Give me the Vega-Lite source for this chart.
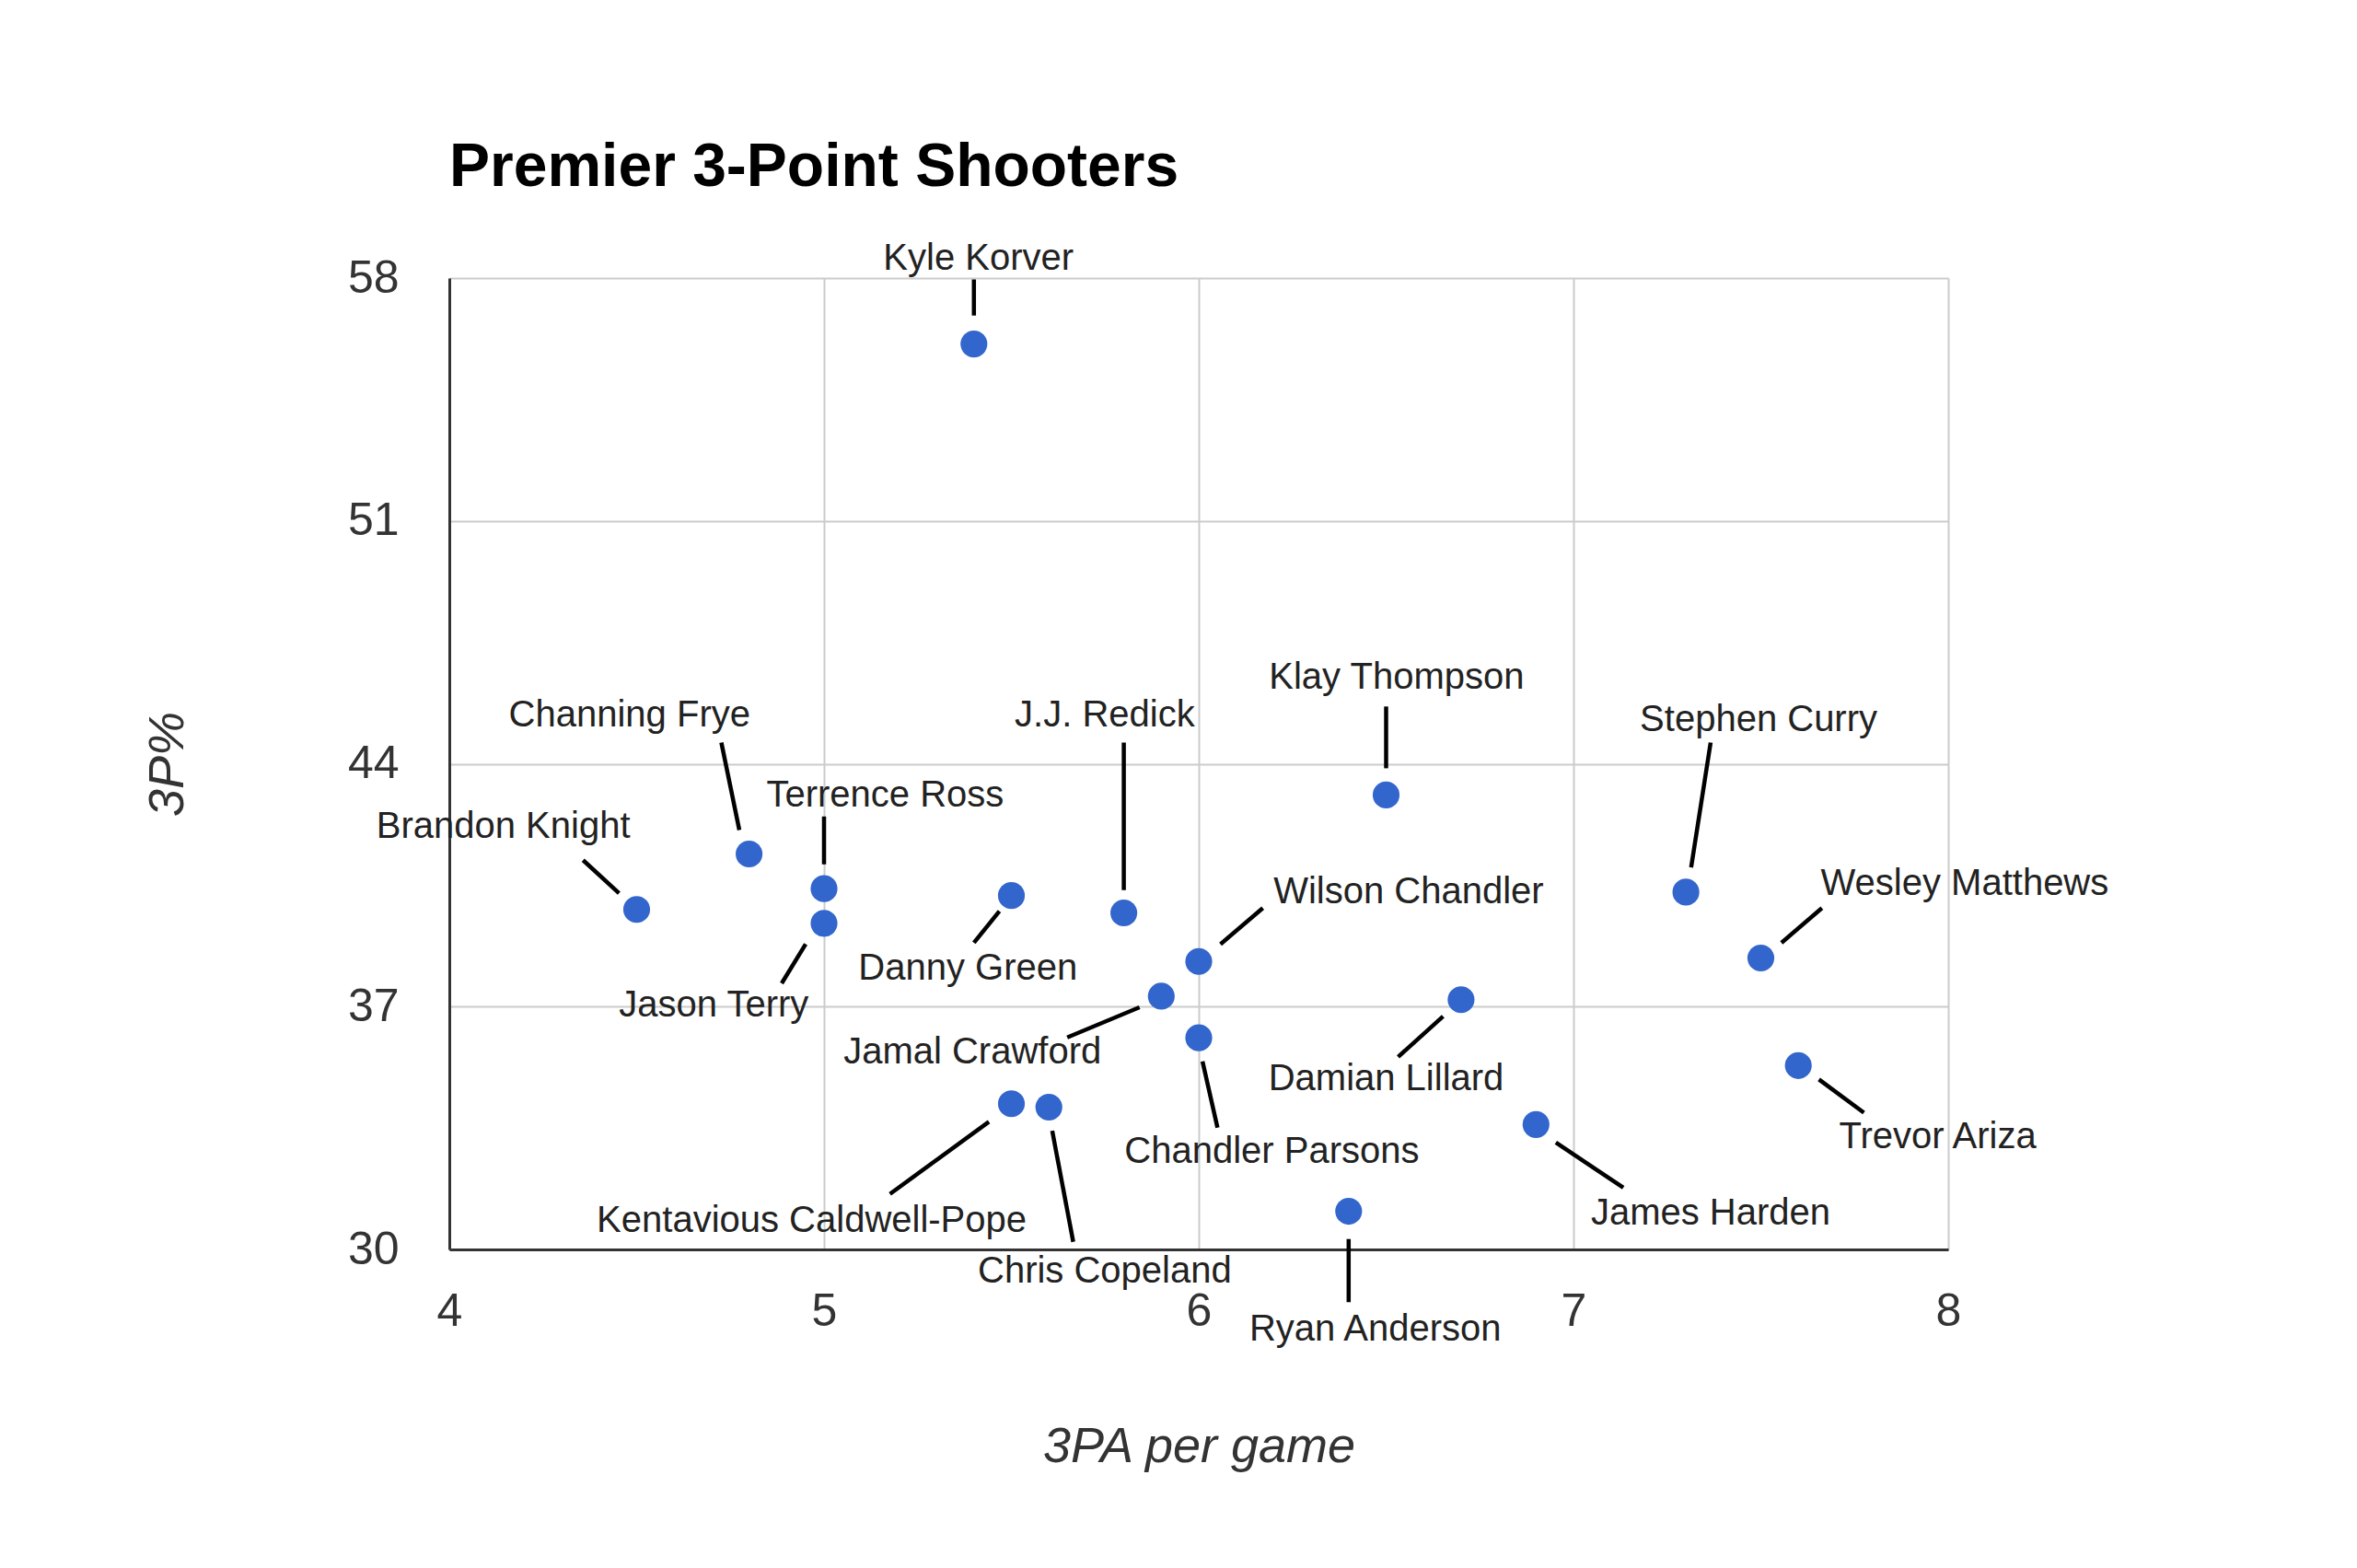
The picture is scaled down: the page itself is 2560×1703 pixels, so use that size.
{
  "$schema": "https://vega.github.io/schema/vega-lite/v6.json",
  "width": 1628,
  "height": 1055,
  "autosize": {"type": "none"},
  "padding": {"left": 488, "top": 302, "right": 444, "bottom": 346},
  "background": "white",
  "title": {
    "text": "Premier 3-Point Shooters",
    "anchor": "start",
    "frame": "group",
    "font": "Liberation Sans",
    "fontSize": 66,
    "fontWeight": "bold",
    "color": "#000000",
    "baseline": "alphabetic",
    "offset": -7
  },
  "data": {
    "values": [
      {"player": "Kyle Korver", "pa": 5.4, "pct": 56.1, "lx": 5.412, "ly": 58.56, "ax": 5.4, "ay": 57.96, "bx": 5.4, "by": 56.92},
      {"player": "Klay Thompson", "pa": 6.5, "pct": 43.1, "lx": 6.528, "ly": 46.47, "ax": 6.5, "ay": 45.65, "bx": 6.5, "by": 43.87},
      {"player": "Channing Frye", "pa": 4.8, "pct": 41.4, "lx": 4.481, "ly": 45.39, "ax": 4.726, "ay": 44.61, "bx": 4.774, "by": 42.09},
      {"player": "Terrence Ross", "pa": 5.0, "pct": 40.4, "lx": 5.163, "ly": 43.09, "ax": 5.0, "ay": 42.48, "bx": 5.0, "by": 41.1},
      {"player": "Brandon Knight", "pa": 4.5, "pct": 39.8, "lx": 4.144, "ly": 42.18, "ax": 4.357, "ay": 41.22, "bx": 4.453, "by": 40.27},
      {"player": "Jason Terry", "pa": 5.0, "pct": 39.4, "lx": 4.706, "ly": 37.02, "ax": 4.951, "ay": 38.8, "bx": 4.887, "by": 37.67},
      {"player": "Danny Green", "pa": 5.5, "pct": 40.2, "lx": 5.384, "ly": 38.1, "ax": 5.468, "ay": 39.75, "bx": 5.4, "by": 38.84},
      {"player": "J.J. Redick", "pa": 5.8, "pct": 39.7, "lx": 5.749, "ly": 45.39, "ax": 5.8, "ay": 44.61, "bx": 5.8, "by": 40.36},
      {"player": "Wilson Chandler", "pa": 6.0, "pct": 38.3, "lx": 6.56, "ly": 40.31, "ax": 6.058, "ay": 38.8, "bx": 6.171, "by": 39.84},
      {"player": "Jamal Crawford", "pa": 5.9, "pct": 37.3, "lx": 5.396, "ly": 35.68, "ax": 5.842, "ay": 36.98, "bx": 5.649, "by": 36.11},
      {"player": "Chandler Parsons", "pa": 6.0, "pct": 36.1, "lx": 6.195, "ly": 32.82, "ax": 6.01, "ay": 35.42, "bx": 6.05, "by": 33.51},
      {"player": "Damian Lillard", "pa": 6.7, "pct": 37.2, "lx": 6.5, "ly": 34.9, "ax": 6.652, "ay": 36.72, "bx": 6.532, "by": 35.55},
      {"player": "Stephen Curry", "pa": 7.3, "pct": 40.3, "lx": 7.494, "ly": 45.26, "ax": 7.366, "ay": 44.61, "bx": 7.314, "by": 41.01},
      {"player": "Wesley Matthews", "pa": 7.5, "pct": 38.4, "lx": 8.044, "ly": 40.53, "ax": 7.555, "ay": 38.84, "bx": 7.663, "by": 39.84},
      {"player": "Trevor Ariza", "pa": 7.6, "pct": 35.3, "lx": 7.972, "ly": 33.25, "ax": 7.655, "ay": 34.9, "bx": 7.775, "by": 33.94},
      {"player": "James Harden", "pa": 6.9, "pct": 33.6, "lx": 7.366, "ly": 31.04, "ax": 6.953, "ay": 33.08, "bx": 7.133, "by": 31.78},
      {"player": "Ryan Anderson", "pa": 6.4, "pct": 31.1, "lx": 6.471, "ly": 27.7, "ax": 6.4, "ay": 30.3, "bx": 6.4, "by": 28.48},
      {"player": "Kentavious Caldwell-Pope", "pa": 5.5, "pct": 34.2, "lx": 4.967, "ly": 30.82, "ax": 5.44, "ay": 33.68, "bx": 5.176, "by": 31.6},
      {"player": "Chris Copeland", "pa": 5.6, "pct": 34.1, "lx": 5.749, "ly": 29.35, "ax": 5.609, "ay": 33.42, "bx": 5.665, "by": 30.22}
    ]
  },
  "layer": [
    {
      "mark": {"type": "rule", "color": "#000000", "strokeWidth": 4.5},
      "encoding": {
        "x": {"field": "ax", "type": "quantitative", "title": "3PA per game", "scale": {"domain": [4, 8], "nice": false, "zero": false},
          "axis": {"values": [4, 5, 6, 7, 8], "format": "d"}},
        "y": {"field": "ay", "type": "quantitative", "title": "3P%", "scale": {"domain": [30, 58], "nice": false, "zero": false},
          "axis": {"values": [30, 37, 44, 51, 58], "format": "d"}},
        "x2": {"field": "bx"},
        "y2": {"field": "by"}
      }
    },
    {
      "mark": {"type": "point", "filled": true, "shape": "circle", "size": 850, "color": "#3366cc", "opacity": 1},
      "encoding": {
        "x": {"field": "pa", "type": "quantitative", "title": "3PA per game"},
        "y": {"field": "pct", "type": "quantitative", "title": "3P%"}
      }
    },
    {
      "mark": {"type": "text", "font": "Liberation Sans", "fontSize": 40, "color": "#222222", "align": "center", "baseline": "middle"},
      "encoding": {
        "x": {"field": "lx", "type": "quantitative", "title": "3PA per game"},
        "y": {"field": "ly", "type": "quantitative", "title": "3P%"},
        "text": {"field": "player"}
      }
    }
  ],
  "config": {
    "view": {"stroke": null},
    "axis": {
      "labelFont": "Liberation Sans",
      "labelFontSize": 50,
      "labelColor": "#333333",
      "labelFlush": false,
      "titleFont": "Liberation Sans",
      "titleFontSize": 54,
      "titleFontStyle": "italic",
      "titleFontWeight": "normal",
      "titleColor": "#333333",
      "gridColor": "#cccccc",
      "gridWidth": 2,
      "gridOpacity": 1,
      "domainColor": "#333333",
      "domainWidth": 3,
      "ticks": false
    },
    "axisX": {
      "labelPadding": 42,
      "labelBaseline": "top",
      "titleY": 230,
      "titleBaseline": "alphabetic"
    },
    "axisY": {
      "labelPadding": 55,
      "titleX": -290,
      "titleBaseline": "alphabetic",
      "titleAngle": -90
    }
  }
}
